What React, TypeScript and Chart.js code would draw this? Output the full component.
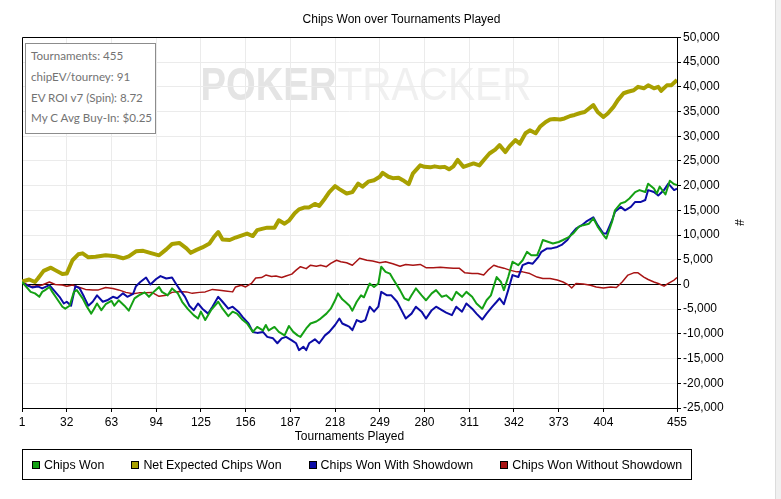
import React, { useEffect, useRef } from "react";
import { Chart, registerables } from "chart.js";

Chart.register(...registerables);

const chartTitle = "Chips Won over Tournaments Played";
const xAxisTitle = "Tournaments Played";
const yAxisTitle = "#";
const xTickValues = [1, 32, 63, 94, 125, 156, 187, 218, 249, 280, 311, 342, 373, 404, 455];
const yMin = -25000;
const yMax = 50000;
const yStep = 5000;

const infoLines = [
  "Tournaments: 455",
  "chipEV/tourney: 91",
  "EV ROI v7 (Spin): 8.72",
  "My C Avg Buy-In: $0.25",
];

const seriesNames = [
  "Chips Won",
  "Net Expected Chips Won",
  "Chips Won With Showdown",
  "Chips Won Without Showdown",
];
const seriesColors = ["#14a014", "#a8a000", "#0c0ca6", "#a81414"];
const seriesWidths = [2, 4, 2, 1.5];

// Chips Won (tournament, thousands)
const chipsWonT = [1, 2, 7, 10, 13, 15, 17, 20, 22, 25, 29, 31, 34, 37, 39, 43, 46, 49, 51, 53, 56, 59, 63, 65, 68, 72, 75, 79, 82, 86, 89, 93, 96, 98, 102, 105, 109, 112, 116, 120, 123, 125, 128, 132, 137, 140, 144, 147, 150, 154, 157, 161, 164, 168, 170, 172, 176, 179, 183, 186, 189, 192, 194, 198, 201, 205, 208, 212, 215, 218, 220, 223, 225, 228, 230, 233, 236, 238, 242, 245, 248, 250, 253, 256, 258, 263, 266, 269, 271, 274, 278, 281, 285, 288, 292, 295, 299, 302, 306, 309, 313, 316, 320, 323, 326, 330, 333, 335, 338, 341, 345, 348, 351, 354, 358, 360, 362, 366, 369, 373, 376, 380, 383, 387, 390, 394, 397, 400, 404, 406, 410, 412, 416, 419, 422, 426, 429, 433, 435, 439, 441, 443, 447, 450, 453, 455];
const chipsWonV = [0.5, 0.2, -1.5, -1.8, -2.5, -1.5, -1.15, -0.5, -1.5, -2.8, -4.5, -4.9, -4.3, -1.5, -1.15, -2.8, -4.5, -5.9, -4.9, -3.85, -5.2, -4.0, -3.3, -4.3, -3.2, -4.3, -5.3, -2.8, -2.2, -1.6, -2.5, -1.3, -0.5, -1.5, -2.2, -0.8, -1.8, -3.5, -5.0, -6.2, -6.9, -5.5, -7.2, -5.2, -3.5, -4.9, -6.4, -5.5, -5.9, -7.2, -7.9, -9.6, -8.6, -9.3, -8.2, -9.3, -8.6, -9.6, -10.3, -8.4, -9.6, -10.3, -10.6, -8.9, -7.9, -7.5, -6.9, -5.9, -4.9, -3.2, -1.8, -3.0, -3.5, -4.3, -5.3, -3.5, -2.2, -2.6, 0.2, -0.5, 0.2, 3.6, 2.55, 2.2, 1.2, -1.15, -2.8, -3.2, -2.2, -0.8, -2.2, -3.2, -1.8, -1.15, -2.5, -2.2, -3.2, -1.5, -2.5, -1.5, -2.5, -3.85, -4.9, -3.2, -2.2, 1.5, 0.5, -1.15, 1.5, 4.6, 3.9, 4.9, 6.6, 5.9, 5.9, 7.3, 9.0, 8.6, 8.3, 8.6, 9.0, 9.6, 10.3, 11.7, 12.0, 12.3, 13.4, 11.7, 10.0, 9.3, 12.7, 15.0, 16.4, 16.7, 17.4, 18.7, 19.1, 18.7, 20.4, 19.4, 18.4, 19.8, 18.2, 21.0, 20.3, 20.1];

// Net Expected Chips Won
const netExpectedT = [1, 6, 10, 12, 16, 21, 24, 29, 32, 36, 40, 43, 47, 52, 59, 66, 71, 75, 80, 85, 91, 96, 101, 105, 110, 115, 118, 122, 126, 131, 134, 137, 140, 145, 149, 154, 157, 161, 164, 168, 171, 176, 179, 183, 186, 190, 193, 197, 200, 204, 207, 211, 214, 218, 221, 226, 230, 234, 237, 241, 245, 249, 251, 255, 258, 262, 265, 269, 272, 277, 280, 284, 287, 291, 294, 297, 300, 303, 307, 310, 314, 318, 322, 325, 329, 332, 336, 339, 343, 346, 350, 353, 357, 360, 364, 367, 370, 374, 377, 381, 384, 388, 391, 394, 397, 400, 404, 407, 411, 414, 418, 421, 425, 428, 432, 435, 439, 442, 444, 448, 451, 455];
const netExpectedV = [0.6, 1.0, 0.5, 1.2, 2.75, 3.4, 2.9, 2.1, 2.2, 4.9, 6.1, 6.3, 5.5, 5.6, 5.9, 5.7, 5.3, 5.7, 6.7, 6.8, 6.3, 5.9, 7.1, 8.2, 8.4, 7.3, 6.4, 7.0, 7.5, 8.3, 9.6, 10.6, 9.1, 9.0, 9.5, 10.0, 10.3, 9.8, 11.0, 11.3, 11.5, 11.5, 13.0, 12.3, 12.9, 14.4, 15.2, 15.6, 15.6, 16.3, 15.9, 17.4, 18.7, 19.9, 19.3, 18.4, 18.7, 20.4, 19.8, 20.8, 21.1, 21.8, 22.6, 21.8, 21.5, 21.6, 21.1, 20.3, 22.5, 24.1, 23.8, 23.7, 23.9, 23.7, 23.8, 23.3, 23.9, 25.2, 23.8, 24.1, 24.5, 24.1, 25.5, 26.5, 27.3, 28.2, 26.8, 28.0, 29.2, 28.5, 30.6, 31.2, 30.6, 31.9, 32.9, 33.4, 33.5, 33.4, 33.6, 34.1, 34.3, 34.7, 34.9, 35.6, 36.3, 34.9, 33.9, 34.6, 35.95, 37.3, 38.7, 39.0, 39.3, 40.0, 39.7, 40.3, 39.7, 40.0, 39.2, 40.3, 40.3, 41.4];

// Chips Won With Showdown
const showdownT = [1, 4, 8, 12, 15, 20, 23, 27, 30, 32, 35, 38, 41, 44, 47, 50, 53, 57, 60, 64, 67, 71, 74, 78, 80, 83, 87, 90, 94, 97, 101, 105, 108, 111, 114, 117, 120, 123, 126, 130, 133, 137, 140, 144, 147, 151, 154, 158, 161, 164, 168, 171, 175, 178, 181, 184, 188, 191, 193, 196, 198, 200, 204, 207, 211, 214, 218, 221, 223, 226, 228, 230, 233, 236, 239, 242, 245, 248, 250, 254, 257, 261, 264, 267, 271, 274, 278, 281, 285, 288, 292, 295, 299, 302, 306, 309, 313, 316, 320, 323, 327, 330, 332, 335, 338, 341, 345, 348, 352, 355, 359, 361, 365, 368, 372, 375, 379, 382, 385, 389, 392, 397, 400, 404, 406, 410, 412, 416, 419, 423, 426, 430, 433, 435, 439, 442, 446, 449, 453, 455];
const showdownV = [0.5, -0.1, -0.6, -0.4, -0.8, -0.15, -1.15, -2.5, -3.85, -3.5, -4.3, -0.35, -0.8, -2.5, -4.3, -3.5, -2.2, -3.5, -3.2, -2.5, -2.8, -1.8, -2.5, -1.9, -0.35, 0.5, 1.4, 0.0, 1.1, 1.7, 1.2, 1.4, 0.0, -1.3, -2.5, -4.3, -5.2, -3.85, -4.9, -5.9, -4.5, -2.5, -3.5, -4.9, -4.5, -5.5, -6.6, -7.9, -9.6, -9.8, -9.6, -10.6, -10.9, -11.9, -10.9, -10.6, -11.3, -11.9, -13.3, -12.6, -13.3, -11.9, -11.1, -11.9, -10.3, -9.6, -8.2, -6.9, -7.9, -8.3, -8.6, -9.25, -7.2, -7.6, -7.2, -4.5, -5.5, -4.5, -1.5, -2.2, -2.2, -3.5, -5.2, -6.9, -5.9, -4.5, -5.5, -6.9, -5.2, -4.5, -5.2, -5.7, -6.2, -4.5, -5.5, -3.85, -4.9, -5.9, -7.1, -5.9, -4.5, -3.5, -2.8, -4.0, -1.15, 1.9, 1.5, 3.9, 4.4, 4.2, 5.6, 6.6, 7.3, 7.3, 7.6, 8.0, 9.0, 10.3, 11.3, 12.0, 12.7, 13.6, 12.0, 10.3, 10.3, 13.0, 14.7, 15.7, 15.0, 15.7, 16.7, 16.7, 17.1, 19.1, 18.7, 18.0, 19.1, 20.4, 19.1, 19.4];

// Chips Won Without Showdown
const noShowdownT = [1, 7, 10, 15, 20, 24, 29, 32, 36, 40, 45, 50, 54, 59, 64, 68, 73, 78, 82, 87, 91, 96, 101, 105, 110, 115, 119, 124, 128, 133, 138, 142, 147, 149, 153, 156, 160, 163, 167, 170, 174, 177, 181, 184, 188, 191, 194, 198, 201, 205, 208, 212, 215, 219, 222, 226, 230, 235, 240, 244, 249, 253, 258, 263, 267, 272, 277, 281, 286, 291, 295, 300, 304, 308, 313, 317, 321, 324, 328, 331, 335, 339, 344, 348, 353, 358, 362, 367, 372, 376, 380, 382, 385, 390, 395, 399, 404, 409, 413, 417, 421, 425, 428, 432, 435, 439, 442, 446, 449, 453, 455];
const noShowdownV = [0.5, -0.4, -0.3, -0.1, 0.5, 0.0, -0.1, -0.35, -0.1, -0.5, -1.0, -1.1, -1.1, -0.6, -0.8, -1.1, -1.6, -1.9, -1.7, -1.7, -1.6, -2.4, -2.2, -1.6, -1.4, -1.5, -1.8, -1.6, -1.5, -1.0, -1.15, -1.3, -1.5, -0.5, -0.15, -0.5, 0.2, 1.3, 1.4, 1.9, 1.6, 1.7, 1.4, 1.7, 2.1, 2.9, 3.6, 3.2, 3.9, 3.7, 3.9, 3.6, 4.25, 4.9, 4.6, 4.4, 3.9, 5.3, 4.9, 4.75, 4.4, 4.6, 4.2, 3.7, 4.05, 3.9, 4.05, 3.4, 3.4, 3.5, 3.4, 3.3, 3.3, 2.35, 2.2, 2.2, 1.9, 2.9, 3.9, 3.6, 3.3, 2.9, 2.55, 2.55, 2.2, 1.5, 1.2, 1.2, 0.9, 0.5, -0.15, -0.7, 0.2, 0.1, -0.15, -0.5, -0.7, -0.5, -0.6, 0.5, 1.9, 2.35, 2.35, 1.5, 1.0, 0.5, 0.2, -0.35, 0.2, 0.9, 1.4];

const seriesT = [chipsWonT, netExpectedT, showdownT, noShowdownT];
const seriesV = [chipsWonV, netExpectedV, showdownV, noShowdownV];

const W = 781;
const H = 499;
const FONT = "'Liberation Sans', Arial, sans-serif";

const framePlugin = {
  id: "frame",
  beforeDraw(chart: any) {
    const { ctx, chartArea } = chart;
    const cx = (chartArea.left + chartArea.right) / 2;
    ctx.save();
    ctx.textBaseline = "alphabetic";
    const baseY = chartArea.top + 63;
    ctx.font = "bold 46px 'Liberation Sans Narrow', 'Liberation Sans', Arial, sans-serif";
    const w1 = ctx.measureText("POKER").width;
    ctx.font = "46px 'Liberation Sans Narrow', 'Liberation Sans', Arial, sans-serif";
    const w2 = ctx.measureText("TRACKER").width;
    const target1 = 136;
    const target2 = 194;
    const startX = cx - (target1 + target2) / 2 + 16;
    ctx.save();
    ctx.translate(startX, baseY);
    ctx.scale(target1 / w1, 1);
    ctx.font = "bold 46px 'Liberation Sans Narrow', 'Liberation Sans', Arial, sans-serif";
    ctx.fillStyle = "#e4e4e4";
    ctx.fillText("POKER", 0, 0);
    ctx.restore();
    ctx.save();
    ctx.translate(startX + target1 + 1, baseY);
    ctx.scale(target2 / w2, 1);
    ctx.font = "46px 'Liberation Sans Narrow', 'Liberation Sans', Arial, sans-serif";
    ctx.fillStyle = "#f0f0f0";
    ctx.fillText("TRACKER", 0, 0);
    ctx.restore();
    ctx.restore();
  },
  beforeDatasetsDraw(chart: any) {
    const { ctx, chartArea } = chart;
    ctx.save();
    ctx.strokeStyle = "#000";
    ctx.lineWidth = 1;
    ctx.beginPath();
    ctx.moveTo(Math.round(chartArea.left) + 0.5, Math.round(chartArea.bottom) + 0.5);
    ctx.lineTo(Math.round(chartArea.left) + 0.5, Math.round(chartArea.top) + 0.5);
    ctx.lineTo(Math.round(chartArea.right) + 0.5, Math.round(chartArea.top) + 0.5);
    ctx.stroke();
    ctx.restore();
  },
};

export default function App() {
  const canvasRef = useRef<HTMLCanvasElement | null>(null);

  useEffect(() => {
    document.body.style.margin = "0";
    const canvas = canvasRef.current;
    if (!canvas) return;
    const datasets = seriesNames.map((name, i) => ({
      label: name,
      data: seriesT[i].map((t, j) => ({ x: t, y: seriesV[i][j] * 1000 })),
      borderColor: seriesColors[i],
      backgroundColor: seriesColors[i],
      borderWidth: seriesWidths[i],
      pointRadius: 0,
      tension: 0,
      fill: false,
      borderJoinStyle: "round" as const,
    }));
    const chart = new Chart(canvas, {
      type: "line",
      data: { datasets },
      plugins: [framePlugin],
      options: {
        animation: false,
        responsive: false,
        devicePixelRatio: 1,
        events: [],
        layout: { padding: { left: 22, right: 0, top: 0, bottom: 0 } },
        plugins: {
          legend: { display: false },
          tooltip: { enabled: false },
          title: {
            display: true,
            text: chartTitle,
            color: "#000",
            font: { family: FONT, size: 12, weight: "normal" },
            padding: { top: 12, bottom: 11 },
          },
        },
        scales: {
          x: {
            type: "linear",
            min: 1,
            max: 455,
            afterBuildTicks: (scale: any) => {
              scale.ticks = xTickValues.map((v) => ({ value: v }));
            },
            afterFit: (scale: any) => {
              scale.height = 91;
            },
            ticks: {
              autoSkip: false,
              maxRotation: 0,
              color: "#000",
              padding: 3,
              font: { family: FONT, size: 12 },
              callback: (v: any) => String(v),
            },
            grid: { color: "#ebebeb", tickColor: "#000", tickLength: 4, lineWidth: 1 },
            border: { color: "#000", width: 1 },
            title: {
              display: true,
              text: xAxisTitle,
              color: "#000",
              font: { family: FONT, size: 12 },
              padding: { top: 4, bottom: 55 },
            },
          },
          y: {
            type: "linear",
            position: "right",
            min: yMin,
            max: yMax,
            afterFit: (scale: any) => {
              scale.width = 104;
            },
            ticks: {
              stepSize: yStep,
              color: "#000",
              padding: 2,
              font: { family: FONT, size: 12 },
              callback: (v: any) => Number(v).toLocaleString("en-US"),
            },
            grid: {
              color: (c: any) => (c.tick && c.tick.value === 0 ? "#000" : "#ebebeb"),
              tickColor: "#000",
              tickLength: 4,
              lineWidth: 1,
            },
            border: { color: "#000", width: 1 },
            title: {
              display: true,
              text: yAxisTitle,
              color: "#000",
              font: { family: FONT, size: 12 },
              padding: { top: 35, bottom: 0 },
            },
          },
        },
      },
    });
    return () => chart.destroy();
  }, []);

  return (
    <div style={{ position: "relative", width: W, height: H, background: "#fff", overflow: "hidden" }}>
      <canvas ref={canvasRef} width={W} height={H} style={{ display: "block", width: W, height: H }} />
      <div
        style={{
          position: "absolute",
          left: 25,
          top: 43,
          width: 129,
          height: 87,
          border: "1px solid #8c8c8c",
          background: "#fff",
          fontFamily: "Lato, 'Noto Sans', sans-serif",
          fontSize: 11.6,
          color: "#737373",
          paddingTop: 2,
          boxSizing: "content-box",
        }}
      >
        {infoLines.map((line) => (
          <div key={line} style={{ height: 20.8, lineHeight: "20.8px", paddingLeft: 5, whiteSpace: "nowrap" }}>
            {line}
          </div>
        ))}
      </div>
      <div
        style={{
          position: "absolute",
          left: 22,
          top: 449,
          width: 670,
          height: 31,
          border: "1px solid #000",
          display: "flex",
          alignItems: "center",
          paddingLeft: 9,
          boxSizing: "border-box",
          fontFamily: FONT,
          fontSize: 12.4,
          color: "#000",
        }}
      >
        {seriesNames.map((name, i) => (
          <div key={name} style={{ display: "flex", alignItems: "center", marginRight: 27 }}>
            <span
              style={{
                display: "inline-block",
                width: 8,
                height: 8,
                boxSizing: "border-box",
                border: "1px solid #000",
                background: seriesColors[i],
                marginRight: 4,
              }}
            />
            <span style={{ whiteSpace: "nowrap" }}>{name}</span>
          </div>
        ))}
      </div>
      <div
        style={{
          position: "absolute",
          left: 775,
          top: 0,
          width: 6,
          height: H,
          borderLeft: "1px solid #dcdcdc",
          background: "#f0f0f0",
          boxSizing: "border-box",
        }}
      />
    </div>
  );
}
